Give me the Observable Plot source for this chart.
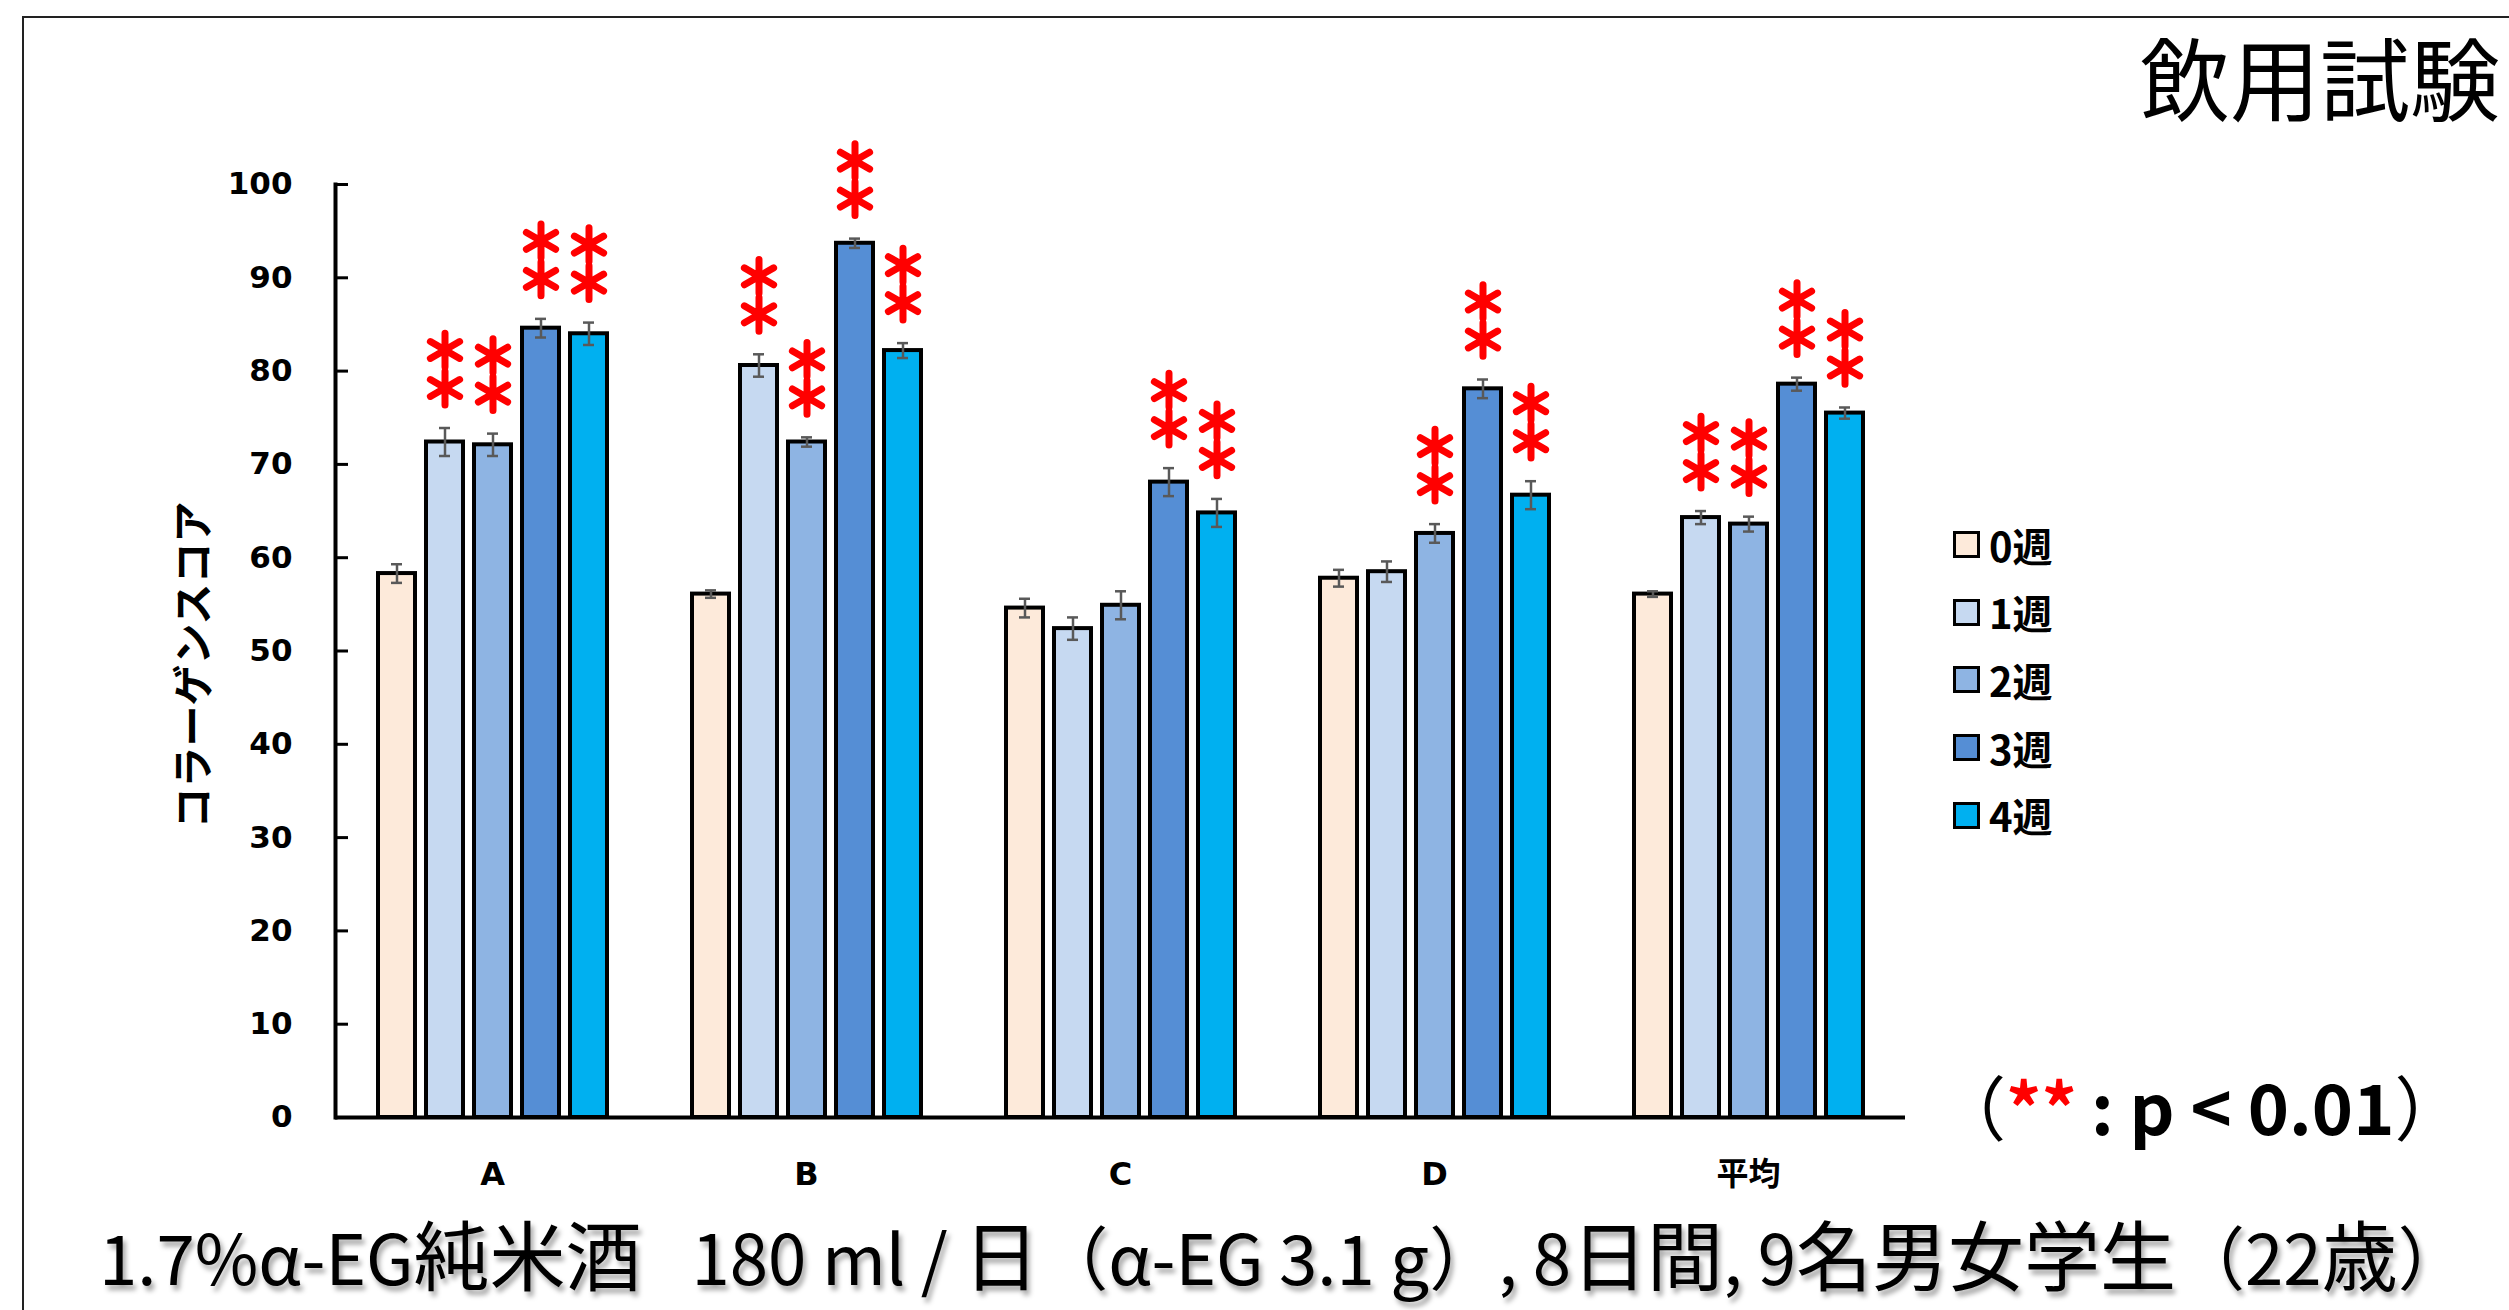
<!DOCTYPE html>
<html><head><meta charset="utf-8">
<script src="https://cdn.jsdelivr.net/npm/d3@7"></script>
<script src="https://cdn.jsdelivr.net/npm/@observablehq/plot@0.6"></script>
<style>
html,body{margin:0;padding:0;background:#fff;}
#page{position:relative;width:2509px;height:1310px;overflow:hidden;background:#fff;font-family:"Noto Sans CJK JP","Noto Sans",sans-serif;color:#000;}
#frame{position:absolute;left:22px;top:16px;width:2600px;height:1400px;border-top:2px solid #222;border-left:2px solid #222;}
#chart{position:absolute;left:0;top:0;}
#title{position:absolute;right:9px;top:30px;font-size:90px;line-height:1;white-space:nowrap;}
#legend{position:absolute;left:1953px;top:511px;}
.row{display:flex;align-items:center;height:67.6px;}
.sw{width:27px;height:27px;box-sizing:border-box;border:3.5px solid #000;margin-right:9px;}
.lt{font-size:40px;font-weight:700;line-height:1;}
#pval{position:absolute;left:1936px;top:1070px;font-size:70px;line-height:1;font-weight:700;white-space:nowrap;}
#pval .paren{font-weight:400;}
#pval .star{color:#ff0000;}
#caption{position:absolute;left:99px;top:1214px;font-size:69px;line-height:1;white-space:nowrap;text-shadow:3px 5px 5px rgba(0,0,0,0.35);}
#caption .cjk{font-size:76px;}
</style></head>
<body><div id="page"><div id="frame"></div><div id="chart"></div>
<div id="title"></div><div id="legend"></div><div id="pval"></div><div id="caption"></div></div>
<script>
const categories = ["A", "B", "C", "D", "平均"];
const weeks = ["0週", "1週", "2週", "3週", "4週"];
const weekColors = ["#FDEADA", "#C6D9F1", "#8EB4E3", "#558ED5", "#00B0F0"];
const yTicks = [0, 10, 20, 30, 40, 50, 60, 70, 80, 90, 100];

const scoreA = [58.3, 72.4, 72.1, 84.6, 84.0];
const scoreB = [56.1, 80.6, 72.4, 93.7, 82.2];
const scoreC = [54.6, 52.4, 54.9, 68.1, 64.8];
const scoreD = [57.8, 58.5, 62.6, 78.1, 66.7];
const scoreAvg = [56.1, 64.3, 63.6, 78.6, 75.5];

const errA = [1.0, 1.5, 1.2, 1.0, 1.2];
const errB = [0.4, 1.2, 0.5, 0.5, 0.8];
const errC = [1.0, 1.2, 1.5, 1.5, 1.5];
const errD = [0.9, 1.1, 1.0, 1.0, 1.5];
const errAvg = [0.3, 0.7, 0.8, 0.7, 0.6];

const sigA = [0, 1, 1, 1, 1];
const sigB = [0, 1, 1, 1, 1];
const sigC = [0, 0, 0, 1, 1];
const sigD = [0, 0, 1, 1, 1];
const sigAvg = [0, 1, 1, 1, 1];

const yLabel = "コラーゲンスコア";
const titleText = "飲用試験";
const captionText = "1.7%α-EG純米酒 \u2002180 ml / 日（α-EG 3.1 g）, 8日間, 9名男女学生（22歳）";

const scores = [scoreA, scoreB, scoreC, scoreD, scoreAvg];
const errs = [errA, errB, errC, errD, errAvg];
const sigs = [sigA, sigB, sigC, sigD, sigAvg];

const data = categories.flatMap((c, i) => weeks.map((w, j) => ({
  cat: c, week: w, value: scores[i][j], lo: scores[i][j] - errs[i][j], hi: scores[i][j] + errs[i][j], sig: sigs[i][j]
})));
const sigData = data.filter(d => d.sig);

const errStyle = {stroke: "#595959", strokeWidth: 2.5};
const starStyle = {fx: "cat", x: "week", y: "hi", symbol: "asterisk", r: 16, stroke: "#ff0000", strokeWidth: 7, strokeLinecap: "round"};

const chart = Plot.plot({
  width: 2509, height: 1310,
  marginLeft: 333, marginRight: 602, marginTop: 184, marginBottom: 193,
  style: {fontFamily: "DejaVu Sans, Noto Sans CJK JP, sans-serif", background: "transparent"},
  fx: {domain: categories, padding: 0, label: null},
  x: {domain: weeks, paddingInner: 0.237, paddingOuter: 0.864, axis: null},
  y: {domain: [0, 100]},
  color: {domain: weeks, range: weekColors},
  marks: [
    Plot.barY(data, {fx: "cat", x: "week", y: "value", fill: "week", stroke: "#000", strokeWidth: 4}),
    Plot.ruleX(data, {fx: "cat", x: "week", y1: "lo", y2: "hi", ...errStyle}),
    Plot.tickY(data, {fx: "cat", x: "week", y: "hi", inset: 13, ...errStyle}),
    Plot.tickY(data, {fx: "cat", x: "week", y: "lo", inset: 13, ...errStyle}),
    Plot.dot(sigData, {...starStyle, dy: -40}),
    Plot.dot(sigData, {...starStyle, dy: -78}),
    Plot.ruleY([0], {stroke: "#000", strokeWidth: 4}),
    Plot.frame({anchor: "left", facetAnchor: "left", stroke: "#000", strokeWidth: 4}),
    Plot.axisY({ticks: yTicks, tickSize: -13, tickFormat: () => "", stroke: "#000", strokeWidth: 3, label: null}),
    Plot.axisY({ticks: yTicks, tickSize: 0, tickPadding: 43, fontSize: 31, fontWeight: "bold", fontFamily: "DejaVu Sans", fill: "#000", label: null}),
    Plot.text([yLabel], {frameAnchor: "left", facetAnchor: "left", textAnchor: "middle", lineAnchor: "middle", rotate: -90, dx: -141, dy: 14, fontSize: 41, fontWeight: "bold", fontFamily: "Noto Sans CJK JP", fill: "#000"}),
    Plot.axisFx({anchor: "bottom", tickSize: 0, tickPadding: 45, fontSize: 32, fontWeight: "bold", fontFamily: "DejaVu Sans, Noto Sans CJK JP", fill: "#000", label: null})
  ]
});
document.getElementById("chart").appendChild(chart);

document.getElementById("title").textContent = titleText;
const legend = document.getElementById("legend");
weeks.forEach((w, i) => {
  const row = document.createElement("div"); row.className = "row";
  const sw = document.createElement("div"); sw.className = "sw"; sw.style.background = weekColors[i];
  const lt = document.createElement("div"); lt.className = "lt"; lt.textContent = w;
  row.appendChild(sw); row.appendChild(lt); legend.appendChild(row);
});
document.getElementById("pval").innerHTML = '<span class="paren">（</span><span class="star">**</span>\u2009: p &lt; 0.01<span class="paren">）</span>';
const cap = document.getElementById("caption");
captionText.split(/([\u4e00-\u9fff]+)/).forEach(part => {
  if (!part) return;
  if (/[\u4e00-\u9fff]/.test(part)) {
    const s = document.createElement("span"); s.className = "cjk"; s.textContent = part; cap.appendChild(s);
  } else cap.appendChild(document.createTextNode(part));
});
</script></body></html>
